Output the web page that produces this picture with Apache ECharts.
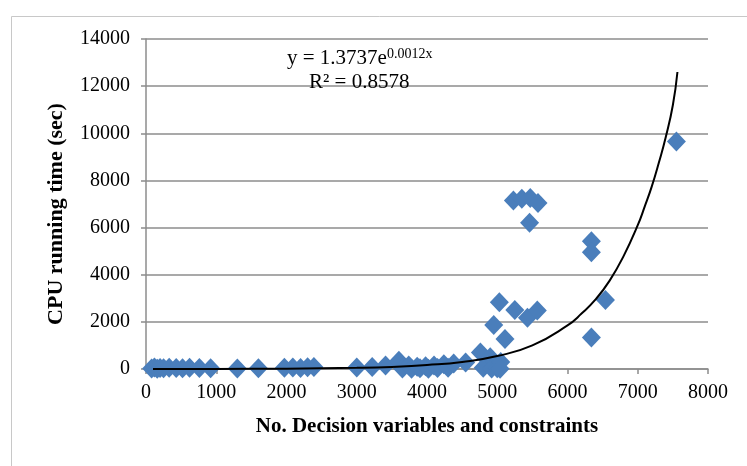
<!DOCTYPE html>
<html lang="en">
<head>
    <meta charset="UTF-8"/>
    <title>CPU running time</title>
    <script src="https://cdn.jsdelivr.net/npm/echarts@6/dist/echarts.min.js"></script>
</head>
<body style="margin:0">
<div id="main" style="width:747px;height:466px;"></div>
<script type="text/javascript">
    // number of decision variables and constraints, CPU time (sec)
    var varsX = [80, 120, 160, 200, 250, 330, 430, 520, 620, 760, 920, 1300, 1600,
        1970, 2090, 2200, 2300, 2390, 3000, 3220, 3410, 3600, 3650, 3740, 3780, 3860,
        3900, 3980, 4020, 4100, 4150, 4240, 4300, 4380, 4550, 4760, 4800, 4900, 4920,
        5000, 5050, 5040, 4950, 5030, 5110, 5250, 5430, 5570, 5230, 5350, 5470, 5580,
        5460, 6340, 6340, 6340, 6540, 7550];
    var cpuTime = [20, 60, 10, 40, 30, 50, 40, 30, 50, 40, 30, 20, 30,
        50, 60, 40, 70, 80, 60, 80, 150, 350, 20, 150, 10, 100,
        30, 120, 10, 150, 40, 200, 50, 230, 280, 700, 50, 500, 20,
        30, 300, 10, 1870, 2830, 1270, 2500, 2170, 2480, 7150, 7220, 7250, 7040,
        6200, 5420, 4950, 1340, 2930, 9650];

    // exponential trend line
    var trendX = [100, 1000, 2000, 3000, 3500, 4000, 4500, 5000, 5500, 6000, 6200, 6400,
        6600, 6800, 7000, 7100, 7200, 7300, 7400, 7500, 7565];
    var trendY = [2, 5, 15, 50, 90, 170, 300, 550, 1000, 1850, 2350, 2950,
        3750, 4800, 6100, 6900, 7750, 8750, 9850, 11200, 12600];

    var points = varsX.map(function (x, i) { return [x, cpuTime[i]]; });
    var trend = trendX.map(function (x, i) { return [x, trendY[i]]; });

    var myChart = echarts.init(document.getElementById('main'));
    var font = 'Liberation Serif';

    option = {
        animation: false,
        backgroundColor: '#fff',
        grid: {left: 146, right: 39, top: 39, bottom: 97},
        xAxis: {
            type: 'value',
            min: 0, max: 8000, interval: 1000,
            name: 'No. Decision variables and constraints',
            nameLocation: 'middle',
            nameGap: 47,
            nameTextStyle: {fontFamily: font, fontSize: 21, fontWeight: 'bold', color: '#000'},
            axisLine: {lineStyle: {color: '#8c8c8c', width: 1.5}},
            axisTick: {show: true, length: 5, lineStyle: {color: '#8c8c8c', width: 1.5}},
            axisLabel: {fontFamily: font, fontSize: 20, color: '#000', margin: 14,
                formatter: function (v) { return String(v); }},
            splitLine: {show: false}
        },
        yAxis: {
            type: 'value',
            min: 0, max: 14000, interval: 2000,
            name: 'CPU running time (sec)',
            nameLocation: 'middle',
            nameGap: 79,
            nameTextStyle: {fontFamily: font, fontSize: 22, fontWeight: 'bold', color: '#000',
                padding: [0, 20, 0, 0]},
            axisLine: {show: true, lineStyle: {color: '#8c8c8c', width: 1.5}},
            axisTick: {show: true, length: 5, lineStyle: {color: '#8c8c8c', width: 1.5}},
            axisLabel: {fontFamily: font, fontSize: 20, color: '#000', margin: 16,
                formatter: function (v) { return String(v); }},
            splitLine: {lineStyle: {color: '#8c8c8c', width: 1.5}}
        },
        graphic: [
            {
                type: 'rect', left: 9, top: 14, silent: true,
                shape: {width: 760, height: 470},
                style: {fill: 'none', stroke: '#c8c8c8', lineWidth: 1}
            },
            {
                type: 'text', left: 287, top: 47, z: 10,
                style: {
                    text: '{m|y = 1.3737e}{s|0.0012x}',
                    rich: {
                        m: {fontFamily: font, fontSize: 21, fill: '#000'},
                        s: {fontFamily: font, fontSize: 14, fill: '#000', verticalAlign: 'top', padding: [0, 0, 9, 0]}
                    }
                }
            },
            {
                type: 'text', left: 309, top: 72, z: 10,
                style: {text: 'R² = 0.8578', fontFamily: font, fontSize: 21, fill: '#000'}
            }
        ],
        series: [
            {
                name: 'CPU time',
                type: 'scatter',
                symbol: 'diamond',
                symbolSize: [19, 20],
                itemStyle: {color: '#4a7ebb', opacity: 1},
                data: points,
                z: 2
            },
            {
                name: 'Trend',
                type: 'line',
                smooth: true,
                showSymbol: false,
                lineStyle: {color: '#000', width: 2},
                data: trend,
                z: 3
            }
        ]
    };

    myChart.setOption(option);
</script>
</body>
</html>
